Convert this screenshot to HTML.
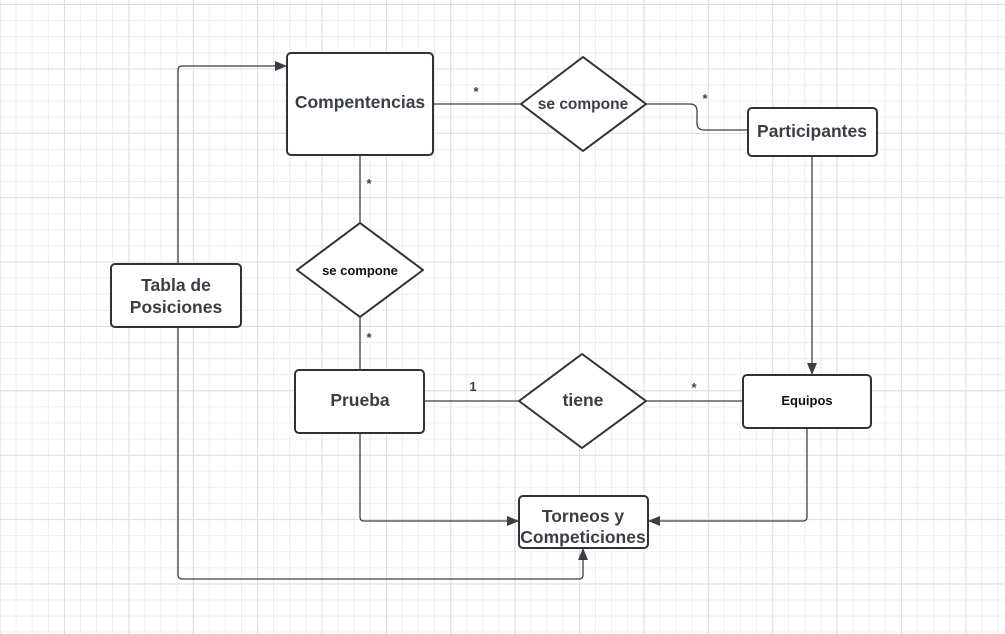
<!DOCTYPE html>
<html><head><meta charset="utf-8"><style>
html,body{margin:0;padding:0;}
body{width:1005px;height:634px;overflow:hidden;background:#fff;
background-image:
linear-gradient(to right,#dedede 1px,transparent 1px),
linear-gradient(to bottom,#dedede 1px,transparent 1px),
linear-gradient(to right,#eeeeee 1px,transparent 1px),
linear-gradient(to bottom,#eeeeee 1px,transparent 1px);
background-size:64.4px 64.4px,64.4px 64.4px,16.1px 16.1px,16.1px 16.1px;
background-position:64px 4px,64px 4px,-0.5px 4px,-0.5px 4px;}
svg{position:absolute;left:0;top:0;}
text{font-family:"Liberation Sans",sans-serif;font-weight:bold;fill:#3a3f47;text-anchor:middle;}
</style></head><body>
<svg width="1005" height="634" viewBox="0 0 1005 634">
<defs><marker id="a" markerWidth="12" markerHeight="10" refX="11" refY="5" orient="auto" markerUnits="userSpaceOnUse"><path d="M0,0 L12,5 L0,10 z" fill="#3a3f47"/></marker></defs>
<g fill="none" stroke="#3a3f47" stroke-width="1.3">
<path d="M433,104 H521"/>
<path d="M646,104 H690 Q697,104 697,111 V123 Q697,130 704,130 H748"/>
<path d="M360,155 V223"/>
<path d="M360,317 V370"/>
<path d="M424,401 H519"/>
<path d="M646,401 H743"/>
<path d="M812,156 V374" marker-end="url(#a)"/>
<path d="M360,433 V517 Q360,521 364,521 H518" marker-end="url(#a)"/>
<path d="M807,428 V517 Q807,521 803,521 H649" marker-end="url(#a)"/>
<path d="M178,264 V70 Q178,66 182,66 H286" marker-end="url(#a)"/>
<path d="M178,327 V575 Q178,579 182,579 H579 Q583,579 583,575 V549" marker-end="url(#a)"/>
</g>
<g fill="#fff" stroke="#2e3137" stroke-width="2">
<rect x="287" y="53" width="146" height="102" rx="4"/>
<rect x="748" y="108" width="129" height="48" rx="4"/>
<rect x="111" y="264" width="130" height="63" rx="4"/>
<rect x="295" y="370" width="129" height="63" rx="4"/>
<rect x="743" y="375" width="128" height="53" rx="4"/>
<rect x="519" y="496" width="129" height="52" rx="4"/>
<path d="M583,57 L646,104 L583,151 L521,104 Z" stroke-linejoin="round"/>
<path d="M360,223 L423,270 L360,317 L297,270 Z" stroke-linejoin="round"/>
<path d="M582,354 L646,401 L582,448 L519,401 Z" stroke-linejoin="round"/>
</g>
<text x="360" y="108" font-size="17.5">Compentencias</text>
<text x="583" y="109" font-size="15.5">se compone</text>
<text x="812" y="137" font-size="17.5">Participantes</text>
<text x="360" y="275" font-size="13" style="fill:#111">se compone</text>
<text x="176" y="291" font-size="17.5">Tabla de</text>
<text x="176" y="313" font-size="17.5">Posiciones</text>
<text x="360" y="406" font-size="17.5">Prueba</text>
<text x="583" y="406" font-size="17.5">tiene</text>
<text x="807" y="405" font-size="13" style="fill:#111">Equipos</text>
<text x="583" y="522" font-size="17.5">Torneos y</text>
<text x="583" y="543" font-size="17.5">Competiciones</text>
<g font-size="13">
<text x="476" y="96">*</text>
<text x="705" y="103">*</text>
<text x="369" y="188">*</text>
<text x="369" y="342">*</text>
<text x="473" y="391">1</text>
<text x="694" y="392">*</text>
</g>
</svg>
</body></html>
